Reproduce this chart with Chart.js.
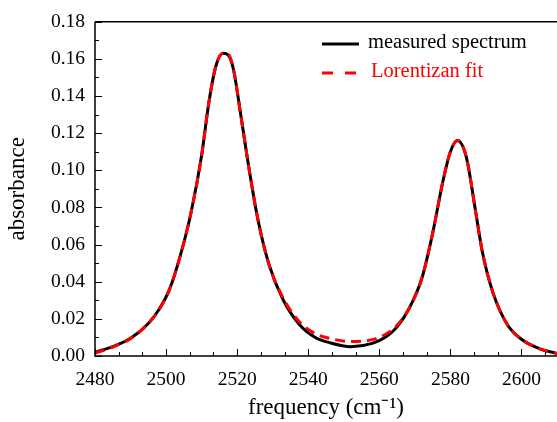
<!DOCTYPE html>
<html>
<head>
<meta charset="utf-8">
<script src="https://cdn.jsdelivr.net/npm/chart.js@4.4.0/dist/chart.umd.min.js"></script>
<style>
html, body { margin: 0; padding: 0; background: #fff; }
</style>
</head>
<body>
<canvas id="spectrum" width="557" height="422"></canvas>
<script>
// values
const freq = [2480, 2485, 2490, 2495, 2498, 2501, 2504, 2507, 2510, 2512, 2514, 2516, 2517.5, 2519, 2521, 2523.5,
  2526, 2529, 2533, 2537.5, 2542, 2546, 2552, 2558, 2562, 2565, 2568.5, 2572, 2575, 2578, 2580, 2582,
  2584.5, 2587, 2589, 2592, 2596, 2600, 2605, 2610];
const measured = [0.002, 0.005, 0.0095, 0.0175, 0.025, 0.036, 0.054, 0.077, 0.108, 0.136, 0.156, 0.163, 0.162, 0.154, 0.130, 0.099,
  0.072, 0.049, 0.030, 0.017, 0.010, 0.0072, 0.005, 0.0068, 0.0105, 0.0157, 0.026, 0.042, 0.066, 0.095, 0.110, 0.116,
  0.107, 0.079, 0.056, 0.034, 0.017, 0.009, 0.004, 0.0013];
const lorentzFit = [0.0015, 0.0048, 0.0093, 0.0175, 0.025, 0.036, 0.054, 0.077, 0.108, 0.136, 0.156, 0.163, 0.1625, 0.154, 0.130, 0.099,
  0.072, 0.049, 0.031, 0.0185, 0.012, 0.0095, 0.0078, 0.0088, 0.012, 0.0165, 0.026, 0.042, 0.066, 0.095, 0.110, 0.116,
  0.107, 0.079, 0.056, 0.034, 0.017, 0.009, 0.004, 0.0013];
const legendLabels = ['measured spectrum', 'Lorentizan fit'];
const xTitle = 'frequency (cm\u207B\u00B9)';
const yTitle = 'absorbance';

const serif = '"Liberation Serif", "Times New Roman", serif';
const toPoints = ys => freq.map((f, i) => ({ x: f, y: ys[i] }));

// axes frame, inward ticks and the legend
const framePlugin = {
  id: 'frame',
  afterDraw(chart) {
    const { ctx, chartArea: a, scales: { x, y } } = chart;
    ctx.save();
    ctx.strokeStyle = '#000';
    ctx.lineWidth = 1.5;
    ctx.beginPath();
    ctx.moveTo(a.left, a.top);
    ctx.lineTo(a.right, a.top);
    ctx.moveTo(a.left, a.top);
    ctx.lineTo(a.left, a.bottom);
    ctx.lineTo(a.right, a.bottom);
    ctx.stroke();
    ctx.lineWidth = 1;
    ctx.beginPath();
    for (let i = 0; ; i++) {
      const v = 2480 + i * 20 / 3;
      if (v > 2610) break;
      const px = Math.round(x.getPixelForValue(v)) + 0.5;
      const len = i % 3 === 0 ? 7 : 4;
      ctx.moveTo(px, a.bottom);
      ctx.lineTo(px, a.bottom - len);
    }
    for (let i = 0; i <= 18; i++) {
      const py = Math.round(y.getPixelForValue(i * 0.01)) + 0.5;
      const len = i % 2 === 0 ? 7 : 4;
      ctx.moveTo(a.left, py);
      ctx.lineTo(a.left + len, py);
    }
    ctx.stroke();

    // legend
    ctx.lineWidth = 3;
    ctx.strokeStyle = '#000';
    ctx.beginPath();
    ctx.moveTo(322, 44);
    ctx.lineTo(359, 44);
    ctx.stroke();
    ctx.strokeStyle = '#ff0000';
    ctx.setLineDash([11, 12]);
    ctx.beginPath();
    ctx.moveTo(322, 73);
    ctx.lineTo(359, 73);
    ctx.stroke();
    ctx.setLineDash([]);
    ctx.font = '20.5px ' + serif;
    ctx.textBaseline = 'middle';
    ctx.fillStyle = '#000';
    ctx.fillText(legendLabels[0], 368, 43);
    ctx.fillStyle = '#ff0000';
    ctx.fillText(legendLabels[1], 371, 72);
    ctx.restore();
  }
};

new Chart(document.getElementById('spectrum'), {
  type: 'line',
  data: {
    datasets: [
      {
        label: legendLabels[1],
        data: toPoints(lorentzFit),
        borderColor: '#ff0000',
        borderWidth: 3,
        borderDash: [10, 6],
        pointRadius: 0,
        fill: false,
        cubicInterpolationMode: 'monotone',
        order: 0
      },
      {
        label: legendLabels[0],
        data: toPoints(measured),
        borderColor: '#000000',
        borderWidth: 3,
        pointRadius: 0,
        fill: false,
        cubicInterpolationMode: 'monotone',
        order: 1
      }
    ]
  },
  options: {
    responsive: false,
    animation: false,
    layout: { padding: { top: 20, right: 0, left: 0, bottom: 0 } },
    plugins: {
      legend: { display: false },
      tooltip: { enabled: false }
    },
    scales: {
      x: {
        type: 'linear',
        min: 2480,
        max: 2610,
        afterFit: s => { s.height = 66; },
        grid: { display: false, drawTicks: false },
        border: { display: false },
        ticks: {
          stepSize: 20,
          includeBounds: false,
          padding: 12,
          color: '#000',
          maxRotation: 0,
          font: { family: serif, size: 19.5 },
          callback: v => v.toString()
        },
        title: {
          display: true,
          text: xTitle,
          color: '#000',
          padding: { top: 0, bottom: 0 },
          font: { family: serif, size: 23 }
        }
      },
      y: {
        min: 0,
        max: 0.18,
        afterFit: s => { s.width = 95; },
        grid: { display: false, drawTicks: false },
        border: { display: false },
        ticks: {
          stepSize: 0.02,
          padding: 10,
          color: '#000',
          font: { family: serif, size: 19.5 },
          callback: v => v.toFixed(2)
        },
        title: {
          display: true,
          text: yTitle,
          color: '#000',
          padding: { top: 4, bottom: 0 },
          font: { family: serif, size: 23 }
        }
      }
    }
  },
  plugins: [framePlugin]
});
</script>
</body>
</html>
